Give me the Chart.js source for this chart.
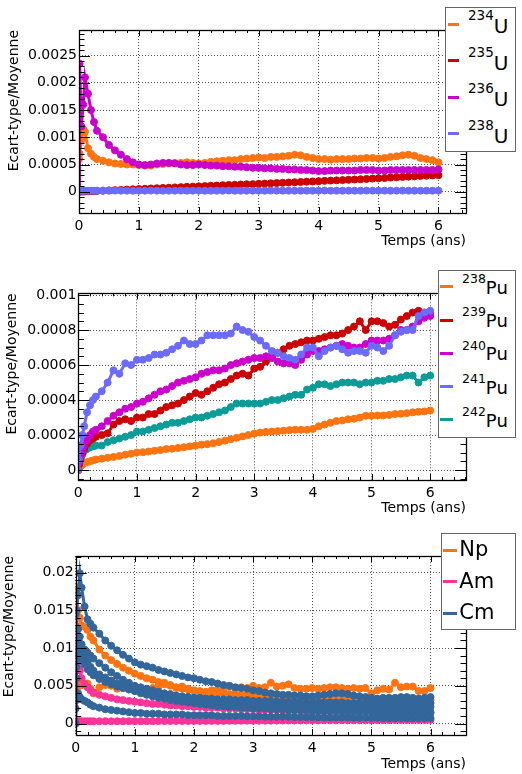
<!DOCTYPE html>
<html>
<head>
<meta charset="utf-8">
<title>Ecart-type/Moyenne</title>
<script src="https://cdn.jsdelivr.net/npm/chart.js@4.4.1/dist/chart.umd.min.js"></script>
<style>
  body { margin: 0; background: #fff; }
  #page { position: relative; width: 522px; height: 774px; overflow: hidden; font-family: "DejaVu Sans", sans-serif; }
  canvas { position: absolute; left: 0; }
  .legend { position: absolute; background: #fff; border: 1px solid #666; box-sizing: border-box; }
  .mark { position: absolute; height: 3px; }
  .name { position: absolute; white-space: nowrap; color: #000; }
</style>
</head>
<body>
<div id="page">
  <canvas id="c1" width="522" height="255" style="top:0"></canvas>
  <canvas id="c2" width="522" height="265" style="top:255px"></canvas>
  <canvas id="c3" width="522" height="254" style="top:520px"></canvas>
</div>
<script>
// temps (ans), shared by every curve
const temps = [0, 0.01, 0.04, 0.07, 0.1, 0.15, 0.2, 0.25, 0.3,
  0.4, 0.5, 0.6, 0.7, 0.8, 0.9, 1.0, 1.1, 1.2, 1.3,
  1.4, 1.5, 1.6, 1.7, 1.8, 1.9, 2.0, 2.1, 2.2, 2.3,
  2.4, 2.5, 2.6, 2.7, 2.8, 2.9, 3.0, 3.1, 3.2, 3.3,
  3.4, 3.5, 3.6, 3.7, 3.8, 3.9, 4.0, 4.1, 4.2, 4.3,
  4.4, 4.5, 4.6, 4.7, 4.8, 4.9, 5.0, 5.1, 5.2, 5.3,
  5.4, 5.5, 5.6, 5.7, 5.8, 5.9, 6.0];

const xTicks = [0, 1, 2, 3, 4, 5, 6];
const xTickLabels = ['0', '1', '2', '3', '4', '5', '6'];

// --- uranium
const uMasses = ['234', '235', '236', '238'];
const u234 = [0.0006, 0.0007, 0.00095, 0.00115, 0.0011, 0.0008, 0.0007, 0.00064, 0.0006,
  0.00057, 0.00054, 0.00052, 0.00051, 0.0005, 0.0005, 0.00049, 0.00048, 0.00048, 0.0005,
  0.00051, 0.00052, 0.00053, 0.00053, 0.00054, 0.00053, 0.00052, 0.00053, 0.00055, 0.00056,
  0.00057, 0.00058, 0.00058, 0.0006, 0.00061, 0.00062, 0.00063, 0.00062, 0.00064, 0.00064,
  0.00065, 0.00066, 0.00068, 0.00067, 0.00064, 0.00062, 0.0006, 0.0006, 0.00059, 0.0006,
  0.0006, 0.0006, 0.00061, 0.00061, 0.00062, 0.00062, 0.00061, 0.00062, 0.00064, 0.00065,
  0.00067, 0.00068, 0.00066, 0.00062, 0.0006, 0.00058, 0.00054];
const u235 = [0, 0.000002, 0.000004, 0.000005, 0.000006, 0.000008, 0.00001, 0.000012, 0.000015,
  0.00002, 0.000025, 0.00003, 0.000034, 0.00004, 0.000045, 0.00005, 0.000054, 0.00006, 0.000065,
  0.00007, 0.000074, 0.00008, 0.000085, 0.00009, 0.000094, 0.0001, 0.000104, 0.00011, 0.000114,
  0.00012, 0.000124, 0.000128, 0.000133, 0.000137, 0.00014, 0.000145, 0.00015, 0.000154, 0.00016,
  0.000165, 0.00017, 0.000174, 0.00018, 0.000185, 0.00019, 0.000194, 0.0002, 0.000205, 0.00021,
  0.000214, 0.00022, 0.000225, 0.00023, 0.000236, 0.000242, 0.000248, 0.000253, 0.00026, 0.000266,
  0.000272, 0.000277, 0.000283, 0.00029, 0.000295, 0.0003, 0.000305];
const u236 = [0, 0.00235, 0.0012, 0.0016, 0.0021, 0.0018, 0.0015, 0.00128, 0.00112,
  0.001, 0.00086, 0.00076, 0.00068, 0.0006, 0.00054, 0.0005, 0.00049, 0.0005, 0.00052,
  0.00053, 0.00053, 0.00052, 0.0005, 0.00049, 0.00049, 0.0005, 0.00049, 0.00048, 0.00048,
  0.00047, 0.00047, 0.00046, 0.00046, 0.00045, 0.00044, 0.00044, 0.00043, 0.00043, 0.00042,
  0.00042, 0.00041, 0.00041, 0.0004, 0.0004, 0.00039, 0.00038, 0.00038, 0.00039, 0.00039,
  0.00039, 0.00039, 0.00039, 0.0004, 0.0004, 0.0004, 0.00039, 0.00039, 0.0004, 0.0004,
  0.0004, 0.0004, 0.0004, 0.0004, 0.0004, 0.0004, 0.00041];
const u238 = [0.00001, 0.00002, 0.00002, 0.00002, 0.00002, 0.00002, 0.00002, 0.00002, 0.00002,
  0.00002, 0.00002, 0.000021, 0.00002, 0.00002, 0.000019, 0.00002, 0.00002, 0.000021, 0.00002,
  0.00002, 0.00002, 0.00002, 0.000021, 0.00002, 0.00002, 0.00002, 0.000019, 0.00002, 0.00002,
  0.00002, 0.000021, 0.00002, 0.00002, 0.00002, 0.00002, 0.00002, 0.00002, 0.000021, 0.00002,
  0.00002, 0.00002, 0.00002, 0.000019, 0.00002, 0.00002, 0.00002, 0.000021, 0.00002, 0.00002,
  0.00002, 0.00002, 0.00002, 0.00002, 0.000021, 0.00002, 0.00002, 0.00002, 0.00002, 0.00002,
  0.000021, 0.00002, 0.00002, 0.00002, 0.00002, 0.00002, 0.00002];
const yTicks1 = [0, 0.0005, 0.001, 0.0015, 0.002, 0.0025];
const yTickLabels1 = ['0', '0.0005', '0.001', '0.0015', '0.002', '0.0025'];

// --- plutonium
const puMasses = ['238', '239', '240', '241', '242'];
const pu238 = [0, 0.00001, 0.00002, 0.00003, 0.00004, 0.000045, 0.00005, 0.000055, 0.00006,
  0.000065, 0.00007, 0.000075, 0.00008, 0.000088, 0.000093, 0.0001, 0.000102, 0.000106, 0.00011,
  0.000114, 0.00012, 0.000122, 0.000126, 0.00013, 0.000135, 0.00014, 0.000145, 0.000148, 0.000153,
  0.00016, 0.000168, 0.000176, 0.000184, 0.000192, 0.0002, 0.000208, 0.000214, 0.000218, 0.00022,
  0.000222, 0.000225, 0.000228, 0.00023, 0.00023, 0.00023, 0.000235, 0.00025, 0.00026, 0.00027,
  0.00028, 0.000283, 0.00029, 0.000293, 0.0003, 0.00031, 0.00031, 0.000312, 0.000312, 0.000315,
  0.00032, 0.000322, 0.000325, 0.00033, 0.000333, 0.000335, 0.00034];
const pu239 = [0, 0.00003, 0.00007, 0.0001, 0.00012, 0.00015, 0.00017, 0.00018, 0.00019,
  0.0002, 0.00021, 0.00026, 0.00028, 0.00029, 0.00028, 0.0003, 0.0003, 0.00032, 0.00032,
  0.00034, 0.00036, 0.00037, 0.00038, 0.0004, 0.00042, 0.00044, 0.00043, 0.00045, 0.00047,
  0.00049, 0.0005, 0.00052, 0.00054, 0.00055, 0.00054, 0.00058, 0.00059, 0.00062, 0.00065,
  0.00067, 0.00069, 0.00071, 0.00072, 0.00073, 0.00074, 0.00074, 0.00075, 0.00076, 0.00077,
  0.00077, 0.00078, 0.0008, 0.00082, 0.00085, 0.0008, 0.00085, 0.00085, 0.00084, 0.00082,
  0.00083, 0.00086, 0.00088, 0.0009, 0.00091, 0.0009, 0.0009];
const pu240 = [0, 0.00004, 0.00008, 0.00011, 0.00014, 0.00017, 0.0002, 0.00022, 0.00023,
  0.00025, 0.00028, 0.00031, 0.00033, 0.00035, 0.00036, 0.00038, 0.00039, 0.00041, 0.00043,
  0.00045, 0.00046, 0.00048, 0.0005, 0.00051, 0.00052, 0.00053, 0.00055, 0.00056, 0.00057,
  0.00057, 0.00058, 0.0006, 0.00061, 0.00062, 0.00063, 0.00064, 0.00064, 0.00065, 0.00064,
  0.00062, 0.00061, 0.00061, 0.0006, 0.00063, 0.00066, 0.00068, 0.00068, 0.00069, 0.0007,
  0.00071, 0.00072, 0.00071, 0.0007, 0.0007, 0.00072, 0.00074, 0.00074, 0.00074, 0.00075,
  0.00077, 0.0008, 0.0008, 0.00082, 0.00085, 0.00087, 0.00088];
const pu241 = [0, 0.00006, 0.00014, 0.0002, 0.00025, 0.00033, 0.00037, 0.0004, 0.00042,
  0.00045, 0.0005, 0.00057, 0.00055, 0.00061, 0.0006, 0.00063, 0.00063, 0.00064, 0.00066,
  0.00066, 0.00067, 0.00069, 0.00071, 0.00074, 0.00072, 0.00072, 0.00074, 0.00077, 0.00077,
  0.00077, 0.00077, 0.00078, 0.00082, 0.0008, 0.00079, 0.00076, 0.00074, 0.00071, 0.00068,
  0.00067, 0.00065, 0.00064, 0.00063, 0.00066, 0.0007, 0.0007, 0.00065, 0.00068, 0.0007,
  0.00071, 0.00069, 0.00067, 0.00068, 0.00068, 0.00067, 0.00071, 0.0007, 0.00068, 0.00071,
  0.00077, 0.00079, 0.0008, 0.0008, 0.00088, 0.0009, 0.00091];
const pu242 = [0, 0.00003, 0.00006, 0.00009, 0.00011, 0.00012, 0.00013, 0.000135, 0.00014,
  0.00014, 0.00016, 0.00017, 0.00018, 0.00019, 0.0002, 0.00022, 0.00022, 0.00023, 0.00024,
  0.00025, 0.00026, 0.00027, 0.00027, 0.00028, 0.00029, 0.0003, 0.0003, 0.00031, 0.00032,
  0.00033, 0.00034, 0.00036, 0.00038, 0.00038, 0.00038, 0.00038, 0.00038, 0.00039, 0.0004,
  0.0004, 0.00041, 0.00042, 0.00043, 0.00043, 0.00046, 0.00047, 0.00049, 0.00049, 0.00048,
  0.00049, 0.0005, 0.0005, 0.0005, 0.00049, 0.0005, 0.0005, 0.00051, 0.00051, 0.00052,
  0.00052, 0.00053, 0.00054, 0.00054, 0.0005, 0.00053, 0.00054];
const yTicks2 = [0, 0.0002, 0.0004, 0.0006, 0.0008, 0.001];
const yTickLabels2 = ['0', '0.0002', '0.0004', '0.0006', '0.0008', '0.001'];

// --- actinides mineurs (several isotopes per element)
const groups3 = ['Np', 'Am', 'Cm'];
const np1 = [0.018, 0.0177, 0.015, 0.014, 0.013, 0.0128, 0.0124, 0.0115, 0.011,
  0.0098, 0.009, 0.0084, 0.0079, 0.0074, 0.007, 0.0066, 0.0063, 0.006, 0.0058,
  0.0055, 0.0052, 0.005, 0.0048, 0.0046, 0.0045, 0.0044, 0.0043, 0.0042, 0.0041,
  0.004, 0.004, 0.0039, 0.0039, 0.0038, 0.0038, 0.0037, 0.0037, 0.0037, 0.0036,
  0.0036, 0.0036, 0.0035, 0.0035, 0.0035, 0.0035, 0.0034, 0.0034, 0.0034, 0.0034,
  0.0034, 0.0033, 0.0033, 0.0033, 0.0033, 0.0033, 0.0032, 0.0032, 0.0032, 0.0032,
  0.0032, 0.0032, 0.0032, 0.0031, 0.0031, 0.0031, 0.0031];
const np2 = [0.0042, 0.0048, 0.0052, 0.005, 0.0051, 0.0053, 0.0053, 0.0046, 0.004,
  0.0048, 0.0051, 0.005, 0.0046, 0.0047, 0.0046, 0.0045, 0.0046, 0.0045, 0.0047,
  0.0049, 0.0054, 0.0051, 0.0047, 0.0049, 0.0046, 0.0043, 0.0041, 0.004, 0.0044,
  0.0045, 0.0046, 0.0049, 0.0046, 0.0048, 0.0047, 0.005, 0.0047, 0.0048, 0.0054,
  0.0049, 0.005, 0.0052, 0.0047, 0.0046, 0.0046, 0.0047, 0.0046, 0.0047, 0.0048,
  0.0048, 0.0047, 0.0046, 0.0047, 0.0046, 0.0047, 0.004, 0.0044, 0.0046, 0.0045,
  0.0054, 0.0048, 0.0049, 0.0049, 0.0043, 0.0043, 0.0047];
const am1 = [0, 0.0002, 0.0003, 0.0003, 0.0003, 0.0003, 0.0003, 0.0003, 0.0003,
  0.0003, 0.0003, 0.0003, 0.0003, 0.0003, 0.0003, 0.00031, 0.00031, 0.00031, 0.00031,
  0.00032, 0.00032, 0.00032, 0.00033, 0.00033, 0.00033, 0.00034, 0.00034, 0.00034, 0.00035,
  0.00035, 0.00035, 0.00036, 0.00036, 0.00037, 0.00037, 0.00037, 0.00038, 0.00038, 0.00038,
  0.00039, 0.00039, 0.0004, 0.0004, 0.0004, 0.00041, 0.00041, 0.00041, 0.00042, 0.00042,
  0.00042, 0.00043, 0.00043, 0.00043, 0.00044, 0.00044, 0.00044, 0.00045, 0.00045, 0.00045,
  0.00046, 0.00046, 0.00046, 0.00047, 0.00047, 0.00047, 0.00048];
const am2 = [0.005, 0.015, 0.0102, 0.007, 0.006, 0.0052, 0.0048, 0.0044, 0.0041,
  0.0038, 0.0036, 0.0034, 0.0032, 0.0031, 0.003, 0.0029, 0.0028, 0.0027, 0.0026,
  0.0026, 0.0025, 0.0024, 0.0024, 0.0023, 0.0023, 0.0022, 0.0022, 0.0021, 0.0021,
  0.0021, 0.002, 0.002, 0.002, 0.0019, 0.0019, 0.0019, 0.0018, 0.0018, 0.0018,
  0.0018, 0.0017, 0.0017, 0.0017, 0.0017, 0.0016, 0.0016, 0.0016, 0.0016, 0.0016,
  0.0016, 0.0015, 0.0015, 0.0015, 0.0015, 0.0015, 0.0015, 0.0015, 0.0014, 0.0014,
  0.0014, 0.0014, 0.0014, 0.0014, 0.0014, 0.0014, 0.0014];
const cm1 = [0.0145, 0.015, 0.017, 0.0199, 0.018, 0.0155, 0.0138, 0.0132, 0.0127,
  0.0119, 0.011, 0.0103, 0.0097, 0.0091, 0.0086, 0.0081, 0.0078, 0.0076, 0.0074,
  0.0071, 0.0069, 0.0067, 0.0065, 0.0063, 0.0061, 0.006, 0.0058, 0.0056, 0.0055,
  0.0053, 0.0051, 0.005, 0.0048, 0.0047, 0.0046, 0.0044, 0.0043, 0.0041, 0.004,
  0.0039, 0.0038, 0.0038, 0.0037, 0.0037, 0.0036, 0.0036, 0.0037, 0.0038, 0.0039,
  0.004, 0.004, 0.0039, 0.0037, 0.0036, 0.0035, 0.0034, 0.0033, 0.0034, 0.0034,
  0.0034, 0.0035, 0.0035, 0.0034, 0.0033, 0.0034, 0.0035];
const cm2 = [0.006, 0.009, 0.0125, 0.0115, 0.0105, 0.0098, 0.0094, 0.009, 0.0086,
  0.008, 0.0074, 0.0068, 0.0063, 0.0058, 0.0054, 0.005, 0.0048, 0.0046, 0.0044,
  0.0042, 0.004, 0.0039, 0.0037, 0.0036, 0.0035, 0.0034, 0.0033, 0.0032, 0.0031,
  0.003, 0.003, 0.0029, 0.0029, 0.0028, 0.0028, 0.0027, 0.0027, 0.0027, 0.0026,
  0.0026, 0.0026, 0.0025, 0.0025, 0.0025, 0.0025, 0.0024, 0.0024, 0.0024, 0.0024,
  0.0024, 0.0023, 0.0023, 0.0023, 0.0023, 0.0023, 0.0023, 0.0022, 0.0022, 0.0022,
  0.0022, 0.0022, 0.0022, 0.0022, 0.0022, 0.0022, 0.0022];
const cm3 = [0.004, 0.0075, 0.011, 0.0105, 0.0095, 0.0088, 0.0081, 0.0075, 0.007,
  0.0065, 0.0061, 0.0057, 0.0053, 0.005, 0.0046, 0.0043, 0.004, 0.0038, 0.0036,
  0.0034, 0.0033, 0.0031, 0.003, 0.0029, 0.0028, 0.0027, 0.0026, 0.0025, 0.0024,
  0.0023, 0.0023, 0.0022, 0.0022, 0.0021, 0.0021, 0.002, 0.002, 0.002, 0.0019,
  0.0019, 0.0019, 0.0018, 0.0018, 0.0018, 0.0018, 0.0017, 0.0017, 0.0017, 0.0017,
  0.0017, 0.0016, 0.0016, 0.0016, 0.0016, 0.0016, 0.0016, 0.0015, 0.0015, 0.0015,
  0.0015, 0.0015, 0.0015, 0.0015, 0.0015, 0.0015, 0.0015];
const cm4 = [0, 0.0031, 0.004, 0.0035, 0.0032, 0.003, 0.0028, 0.0025, 0.0023,
  0.0021, 0.0019, 0.0018, 0.0017, 0.0016, 0.0015, 0.0014, 0.0014, 0.0013, 0.0013,
  0.0013, 0.0012, 0.0012, 0.0012, 0.0012, 0.0011, 0.0011, 0.0011, 0.0011, 0.0011,
  0.001, 0.001, 0.001, 0.001, 0.001, 0.00095, 0.00095, 0.00095, 0.0009, 0.0009,
  0.0009, 0.0009, 0.0009, 0.00085, 0.00085, 0.00085, 0.00085, 0.0008, 0.0008, 0.0008,
  0.0008, 0.0008, 0.0008, 0.00075, 0.00075, 0.00075, 0.00075, 0.00075, 0.0007, 0.0007,
  0.0007, 0.0007, 0.0007, 0.0007, 0.0007, 0.0007, 0.0007];
const cm5 = [0.002, 0.006, 0.0095, 0.009, 0.0085, 0.0078, 0.0072, 0.0068, 0.0064,
  0.0059, 0.0055, 0.0052, 0.0049, 0.0047, 0.0045, 0.0043, 0.0042, 0.0041, 0.004,
  0.0039, 0.0038, 0.0037, 0.0036, 0.0035, 0.0035, 0.0034, 0.0034, 0.0033, 0.0033,
  0.0032, 0.0032, 0.0032, 0.0031, 0.0031, 0.0031, 0.003, 0.003, 0.003, 0.003,
  0.0029, 0.0029, 0.0029, 0.0029, 0.0029, 0.0028, 0.0028, 0.0028, 0.0028, 0.0028,
  0.0028, 0.0028, 0.0027, 0.0027, 0.0027, 0.0027, 0.0027, 0.0027, 0.0027, 0.0027,
  0.0027, 0.0027, 0.0027, 0.0027, 0.0027, 0.0027, 0.0027];
const yTicks3 = [0, 0.005, 0.01, 0.015, 0.02];
const yTickLabels3 = ['0', '0.005', '0.01', '0.015', '0.02'];

// ROOT-like colours
const ORANGE = '#ff7311', RED = '#cc0000', MAGENTA = '#cc00cc', LBLUE = '#6b6bff',
  TEAL = '#0c9c98', PINK = '#ff3399', CMBLUE = '#33669a';

const panels = [
  {
    canvas: 'c1', height: 255,
    area: { left: 79, top: 30, right: 466, bottom: 213 },
    xMax: 6.46, yMin: -0.00039, yMax: 0.00297,
    yTicks: yTicks1, yTickLabels: yTickLabels1, yMinor: 5,
    xTitlePad: 5.6, yTitlePad: 5.6,
    series: [
      { label: uMasses[0] + 'U', values: u234, color: ORANGE, order: 4 },
      { label: uMasses[1] + 'U', values: u235, color: RED, order: 3 },
      { label: uMasses[2] + 'U', values: u236, color: MAGENTA, order: 2 },
      { label: uMasses[3] + 'U', values: u238, color: LBLUE, order: 1 }
    ],
    legend: {
      left: 445, top: 7, width: 71, height: 145, first: 16, step: 36.5,
      markLeft: 2, markWidth: 11, textLeft: 22, font: 20, supFont: 13.5, base: 9.3, raise: 13.3,
      items: uMasses.map((m, i) => ({ sup: m, sym: 'U', color: [ORANGE, RED, MAGENTA, LBLUE][i] }))
    }
  },
  {
    canvas: 'c2', height: 265,
    area: { left: 78.3, top: 38.3, right: 466, bottom: 225 },
    xMax: 6.61, yMin: -0.000057, yMax: 0.00101,
    yTicks: yTicks2, yTickLabels: yTickLabels2, yMinor: 4,
    xTitlePad: 3.3, yTitlePad: 4.1,
    series: [
      { label: puMasses[0] + 'Pu', values: pu238, color: ORANGE, order: 5 },
      { label: puMasses[1] + 'Pu', values: pu239, color: RED, order: 3 },
      { label: puMasses[2] + 'Pu', values: pu240, color: MAGENTA, order: 2 },
      { label: puMasses[3] + 'Pu', values: pu241, color: LBLUE, order: 1 },
      { label: puMasses[4] + 'Pu', values: pu242, color: TEAL, order: 4 }
    ],
    legend: {
      left: 437.7, top: 270, width: 78, height: 168, first: 15.7, step: 33.3,
      markLeft: 1.3, markWidth: 13, textLeft: 23.3, font: 18, supFont: 12.5, base: 7.3, raise: 10.7,
      items: puMasses.map((m, i) => ({ sup: m, sym: 'Pu', color: [ORANGE, RED, MAGENTA, LBLUE, TEAL][i] }))
    }
  },
  {
    canvas: 'c3', height: 254,
    area: { left: 75.7, top: 36, right: 466, bottom: 215 },
    xMax: 6.6, yMin: -0.00152, yMax: 0.02219,
    yTicks: yTicks3, yTickLabels: yTickLabels3, yMinor: 5,
    xTitlePad: 1.1, yTitlePad: 0.8,
    series: [
      { label: groups3[0], values: np1, color: ORANGE, order: 3 },
      { label: groups3[0], values: np2, color: ORANGE, order: 3 },
      { label: groups3[1], values: am1, color: PINK, order: 2 },
      { label: groups3[1], values: am2, color: PINK, order: 2 },
      { label: groups3[2], values: cm1, color: CMBLUE, order: 1 },
      { label: groups3[2], values: cm2, color: CMBLUE, order: 1 },
      { label: groups3[2], values: cm3, color: CMBLUE, order: 1 },
      { label: groups3[2], values: cm4, color: CMBLUE, order: 1 },
      { label: groups3[2], values: cm5, color: CMBLUE, order: 1 }
    ],
    legend: {
      left: 440.7, top: 533, width: 75, height: 97, first: 16, step: 31.7,
      markLeft: 1.3, markWidth: 13.7, textLeft: 17.6, font: 21, base: 6.7,
      items: groups3.map((g, i) => ({ sup: '', sym: g, color: [ORANGE, PINK, CMBLUE][i] }))
    }
  }
];

// frame with inner ticks on all four sides, like a ROOT pad
function tickValues(scale, majors, sub) {
  const step = (majors[1] - majors[0]) / sub;
  const out = [];
  const kMin = Math.ceil((scale.min - majors[0]) / step - 1e-9);
  const kMax = Math.floor((scale.max - majors[0]) / step + 1e-9);
  for (let k = kMin; k <= kMax; k++) {
    out.push({ v: majors[0] + k * step, major: ((k % sub) + sub) % sub === 0 });
  }
  return out;
}

const rootFrame = {
  id: 'rootFrame',
  afterDraw(chart, args, opts) {
    const { ctx, chartArea: a, scales: { x, y } } = chart;
    ctx.save();
    ctx.strokeStyle = '#000';
    ctx.lineWidth = 1;
    ctx.beginPath();
    tickValues(x, opts.xTicks, 5).forEach(t => {
      const px = Math.round(x.getPixelForValue(t.v)) + 0.5;
      const len = t.major ? 6 : 3;
      ctx.moveTo(px, a.bottom); ctx.lineTo(px, a.bottom - len);
      ctx.moveTo(px, a.top); ctx.lineTo(px, a.top + len);
    });
    tickValues(y, opts.yTicks, opts.yMinor).forEach(t => {
      const py = Math.round(y.getPixelForValue(t.v)) + 0.5;
      const len = t.major ? 11 : 5.5;
      ctx.moveTo(a.left, py); ctx.lineTo(a.left + len, py);
      ctx.moveTo(a.right, py); ctx.lineTo(a.right - len, py);
    });
    ctx.stroke();
    ctx.lineWidth = 1.3;
    ctx.strokeRect(Math.round(a.left) + 0.5, Math.round(a.top) + 0.5,
      Math.round(a.right - a.left), Math.round(a.bottom - a.top));
    ctx.restore();
  }
};

const axisFont = { family: '"DejaVu Sans", sans-serif', size: 14 };

panels.forEach(p => {
  const a = p.area;
  new Chart(document.getElementById(p.canvas), {
    type: 'line',
    data: {
      datasets: p.series.map(s => ({
        label: s.label,
        data: temps.map((t, i) => ({ x: t, y: s.values[i] })),
        borderColor: s.color,
        backgroundColor: s.color,
        pointBackgroundColor: s.color,
        pointBorderColor: s.color,
        pointRadius: 3.5,
        pointBorderWidth: 1,
        borderWidth: 3,
        tension: 0,
        order: s.order
      }))
    },
    options: {
      responsive: false,
      animation: false,
      events: [],
      layout: { padding: { left: 0, right: 522 - a.right, top: a.top, bottom: 0 } },
      plugins: {
        legend: { display: false },
        tooltip: { enabled: false },
        rootFrame: { xTicks: xTicks, yTicks: p.yTicks, yMinor: p.yMinor }
      },
      scales: {
        x: {
          type: 'linear', min: 0, max: p.xMax,
          afterBuildTicks: sc => { sc.ticks = xTicks.map(v => ({ value: v })); },
          afterFit: sc => { sc.height = p.height - a.bottom; },
          grid: { color: '#555', lineWidth: 1, drawTicks: false },
          border: { display: false, dash: [1, 2] },
          ticks: {
            color: '#000', font: axisFont, padding: 5, maxRotation: 0, autoSkip: false,
            callback: (v, i) => xTickLabels[i]
          },
          title: {
            display: true, text: 'Temps (ans)', align: 'end', color: '#000', font: axisFont,
            padding: { top: 0, bottom: p.xTitlePad }
          }
        },
        y: {
          type: 'linear', min: p.yMin, max: p.yMax,
          afterBuildTicks: sc => { sc.ticks = p.yTicks.map(v => ({ value: v })); },
          afterFit: sc => { sc.width = a.left; },
          grid: { color: '#555', lineWidth: 1, drawTicks: false },
          border: { display: false, dash: [1, 2] },
          ticks: {
            color: '#000', font: axisFont, padding: 2, autoSkip: false,
            callback: (v, i) => p.yTickLabels[i]
          },
          title: {
            display: true, text: 'Ecart-type/Moyenne', align: 'end', color: '#000', font: axisFont,
            padding: { top: p.yTitlePad, bottom: 0 }
          }
        }
      }
    },
    plugins: [rootFrame]
  });

  // legend box (HTML so the mass numbers can be raised)
  const L = p.legend;
  const box = document.createElement('div');
  box.className = 'legend';
  Object.assign(box.style, { left: L.left + 'px', top: L.top + 'px', width: L.width + 'px', height: L.height + 'px' });
  L.items.forEach((it, i) => {
    const cy = L.first + i * L.step;
    const mark = document.createElement('div');
    mark.className = 'mark';
    Object.assign(mark.style, { left: L.markLeft + 'px', top: (cy - 1.5) + 'px', width: L.markWidth + 'px', background: it.color });
    box.appendChild(mark);
    const name = document.createElement('div');
    name.className = 'name';
    Object.assign(name.style, {
      left: L.textLeft + 'px', top: (cy + L.base - 0.846 * L.font) + 'px',
      fontSize: L.font + 'px', lineHeight: L.font + 'px'
    });
    if (it.sup) {
      const s = document.createElement('span');
      s.textContent = it.sup;
      Object.assign(s.style, { fontSize: L.supFont + 'px', position: 'relative', top: (-L.raise) + 'px' });
      name.appendChild(s);
    }
    name.appendChild(document.createTextNode(it.sym));
    box.appendChild(name);
  });
  document.getElementById('page').appendChild(box);
});
</script>
</body>
</html>
